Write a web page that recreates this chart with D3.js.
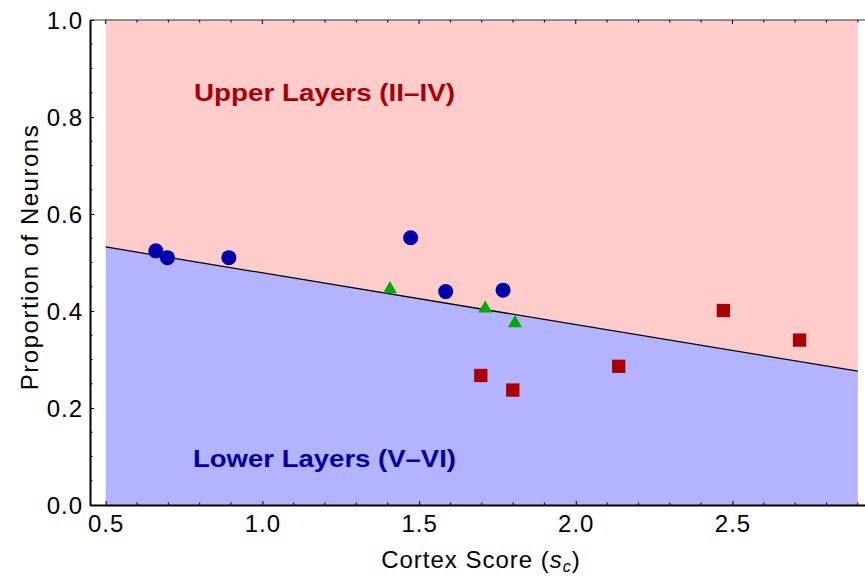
<!DOCTYPE html>
<html>
<head>
<meta charset="utf-8">
<script src="https://cdn.jsdelivr.net/npm/d3@7"></script>
<style>
  body { margin: 0; background: white; }
  svg { display: block; }
</style>
</head>
<body>
<div id="container"></div>
<script>
let w = 865;
let h = 576;

// data
let circleX = [0.660, 0.697, 0.893, 1.473, 1.585, 1.768];
let circleY = [0.524, 0.510, 0.510, 0.551, 0.440, 0.443];
let triangleX = [1.407, 1.711, 1.806];
let triangleY = [0.445, 0.405, 0.375];
let squareX = [1.697, 1.799, 2.137, 2.471, 2.714];
let squareY = [0.267, 0.237, 0.286, 0.401, 0.340];
let lineX = [0.5, 2.9];
let lineY = [0.532, 0.276];

let xMajor = [0.5, 1.0, 1.5, 2.0, 2.5];
let yMajor = [0.0, 0.2, 0.4, 0.6, 0.8, 1.0];
let xMinor = d3.range(5, 30).map(d => d / 10).filter(d => !xMajor.includes(d));
let yMinor = d3.range(0, 21).map(d => d / 20).filter(d => !yMajor.some(m => Math.abs(m - d) < 1e-9));

let font = "Liberation Sans, Arial, sans-serif";

let xScale = d3.scaleLinear().domain([0.45, 2.95]).range([90, 873.5]);
let yScale = d3.scaleLinear().domain([0, 1]).range([505, 20]);

let viz = d3.select("#container")
  .append("svg")
  .attr("width", w)
  .attr("height", h)
  .style("background-color", "white");

// shaded regions
let lineData = lineX.map((x, i) => ({x: x, y: lineY[i]}));

let upperArea = d3.area()
  .x(d => xScale(d.x))
  .y0(yScale(1))
  .y1(d => yScale(d.y));

let lowerArea = d3.area()
  .x(d => xScale(d.x))
  .y0(yScale(0))
  .y1(d => yScale(d.y));

viz.append("path").attr("d", upperArea(lineData)).attr("fill", "#ffcccc");
viz.append("path").attr("d", lowerArea(lineData)).attr("fill", "#b3b3ff");

// boundary line
let line = d3.line().x(d => xScale(d.x)).y(d => yScale(d.y));
viz.append("path")
  .attr("d", line(lineData))
  .attr("stroke", "black")
  .attr("stroke-width", 1.3)
  .attr("fill", "none");

// region labels
viz.append("text")
  .text("Upper Layers (II\u2013IV)")
  .attr("x", 194)
  .attr("y", 101)
  .attr("textLength", 261)
  .attr("lengthAdjust", "spacingAndGlyphs")
  .attr("font-family", font)
  .attr("font-weight", "bold")
  .attr("font-size", "23px")
  .attr("fill", "#aa0000");

viz.append("text")
  .text("Lower Layers (V\u2013VI)")
  .attr("x", 193)
  .attr("y", 467)
  .attr("textLength", 263)
  .attr("lengthAdjust", "spacingAndGlyphs")
  .attr("font-family", font)
  .attr("font-weight", "bold")
  .attr("font-size", "23px")
  .attr("fill", "#0000a0");

// frame
viz.append("line")
  .attr("x1", xScale.range()[0]).attr("x2", xScale.range()[1])
  .attr("y1", 20).attr("y2", 20)
  .attr("stroke", "#333").attr("stroke-width", 1.2);

let xAxis = d3.axisBottom(xScale).tickValues(xMajor).tickFormat(d3.format(".1f"))
  .tickSizeInner(-4).tickSizeOuter(0).tickPadding(10);
let xAxisGroup = viz.append("g")
  .attr("transform", "translate(0," + yScale(0) + ")")
  .call(xAxis);

let yAxis = d3.axisLeft(yScale).tickValues(yMajor).tickFormat(d3.format(".1f"))
  .tickSizeInner(-4).tickSizeOuter(0).tickPadding(7);
let yAxisGroup = viz.append("g")
  .attr("transform", "translate(" + xScale.range()[0] + ",0)")
  .call(yAxis);

[xAxisGroup, yAxisGroup].forEach(g => {
  g.select(".domain").attr("stroke", "black").attr("stroke-width", 2);
  g.selectAll(".tick line").attr("stroke", "black").attr("stroke-width", 1);
  g.selectAll(".tick text")
    .attr("font-family", font)
    .attr("font-size", "24px")
    .attr("fill", "black");
});
xAxisGroup.selectAll(".tick text").attr("dy", "0.71em").attr("letter-spacing", "1px");
yAxisGroup.selectAll(".tick text").attr("dy", "0.36em").attr("letter-spacing", "1px");

// minor ticks + top ticks
let tickGroup = viz.append("g").attr("stroke", "black").attr("stroke-width", 1);
tickGroup.selectAll(".xminor").data(xMinor).enter()
  .append("line")
  .attr("x1", d => xScale(d)).attr("x2", d => xScale(d))
  .attr("y1", yScale(0)).attr("y2", yScale(0) - 2.5);
tickGroup.selectAll(".xtop").data(xMinor.concat(xMajor)).enter()
  .append("line")
  .attr("x1", d => xScale(d)).attr("x2", d => xScale(d))
  .attr("y1", yScale(1)).attr("y2", d => yScale(1) + (xMajor.includes(d) ? 4 : 2.5));
tickGroup.selectAll(".yminor").data(yMinor).enter()
  .append("line")
  .attr("x1", xScale.range()[0]).attr("x2", xScale.range()[0] + 2.5)
  .attr("y1", d => yScale(d)).attr("y2", d => yScale(d));

// markers
viz.selectAll(".circlePoint").data(circleX).enter()
  .append("circle")
  .attr("cx", d => xScale(d))
  .attr("cy", (d, i) => yScale(circleY[i]))
  .attr("r", 7.5)
  .attr("fill", "#0000aa");

viz.selectAll(".trianglePoint").data(triangleX).enter()
  .append("path")
  .attr("d", d3.symbol().type(d3.symbolTriangle).size(85))
  .attr("transform", (d, i) => "translate(" + xScale(d) + "," + yScale(triangleY[i]) + ")")
  .attr("fill", "#00aa00");

viz.selectAll(".squarePoint").data(squareX).enter()
  .append("path")
  .attr("d", d3.symbol().type(d3.symbolSquare).size(13.3 * 13.3))
  .attr("transform", (d, i) => "translate(" + xScale(d) + "," + yScale(squareY[i]) + ")")
  .attr("fill", "#aa0000");

// axis titles
let xTitle = viz.append("text")
  .attr("x", 481)
  .attr("y", 568)
  .attr("text-anchor", "middle")
  .attr("font-family", font)
  .attr("font-size", "24px")
  .attr("letter-spacing", "1px")
  .attr("fill", "black");
xTitle.append("tspan").text("Cortex Score (");
xTitle.append("tspan").text("s").attr("font-style", "italic");
xTitle.append("tspan").text("c").attr("font-style", "italic").attr("font-size", "16px").attr("dy", 4);
xTitle.append("tspan").text(")").attr("dy", -4);

viz.append("text")
  .text("Proportion of Neurons")
  .attr("transform", "translate(37.5,257) rotate(-90)")
  .attr("text-anchor", "middle")
  .attr("font-family", font)
  .attr("font-size", "24px")
  .attr("letter-spacing", "1.5px")
  .attr("fill", "black");
</script>
</body>
</html>
